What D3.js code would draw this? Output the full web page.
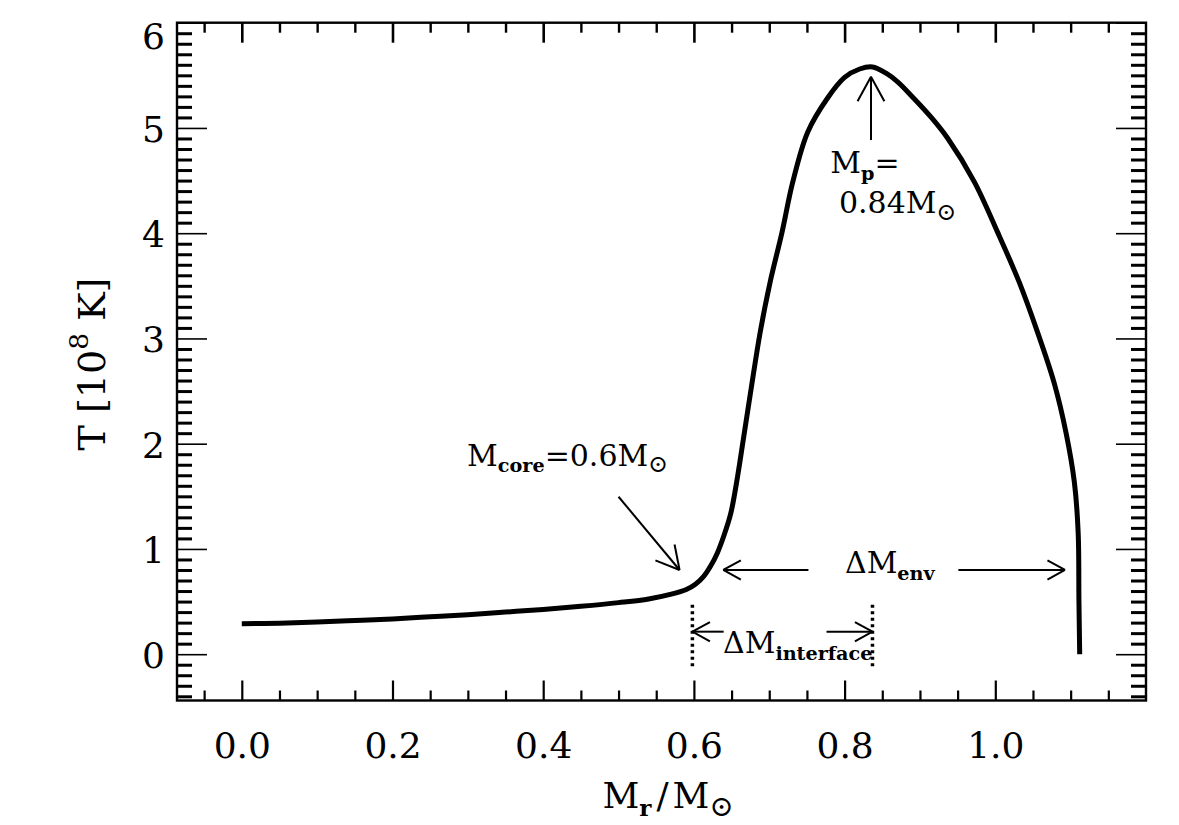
<!DOCTYPE html>
<html>
<head>
<meta charset="utf-8">
<script src="https://cdn.jsdelivr.net/npm/d3@7"></script>
<style>
  body { margin: 0; background: #fff; }
  text { font-family: "DejaVu Serif", serif; fill: #000; }
</style>
</head>
<body>
<div class="chart"></div>
<script>
// temperature profile T(M_r)
var massCoord = [0.000, 0.050, 0.100, 0.150, 0.200, 0.250, 0.300, 0.350, 0.400, 0.450,
                 0.500, 0.540, 0.570, 0.590, 0.602, 0.613, 0.622, 0.631, 0.640, 0.649,
                 0.658, 0.666, 0.677, 0.688, 0.701, 0.717, 0.731, 0.751, 0.777, 0.800,
                 0.820, 0.837, 0.855, 0.870, 0.892, 0.915, 0.937, 0.972, 1.003, 1.032,
                 1.056, 1.078, 1.094, 1.105, 1.110, 1.111, 1.112];
var tempVals  = [0.290, 0.295, 0.305, 0.320, 0.335, 0.355, 0.375, 0.400, 0.425, 0.455,
                 0.490, 0.525, 0.570, 0.615, 0.665, 0.740, 0.835, 0.960, 1.130, 1.340,
                 1.690, 2.060, 2.570, 3.060, 3.530, 4.010, 4.480, 4.960, 5.280, 5.480,
                 5.560, 5.580, 5.520, 5.440, 5.280, 5.100, 4.900, 4.490, 4.010, 3.530,
                 3.060, 2.580, 2.100, 1.630, 1.150, 0.510, 0.000];

var xMajorTicks = [0.0, 0.2, 0.4, 0.6, 0.8, 1.0];
var yMajorTicks = [0, 1, 2, 3, 4, 5, 6];

// annotation anchors, in data units
var coreMass = 0.6, peakMass = 0.837, envArrowT = 0.80, interfaceArrowT = 0.214;

var W = 1179, H = 825;
var pLeft = 177, pRight = 1146, pTop = 22.7, pBottom = 700.5;

var svg = d3.select('.chart').append('svg')
    .attr('width', W)
    .attr('height', H);

var x = d3.scaleLinear().domain([-0.086, 1.2]).range([pLeft, pRight]);
var y = d3.scaleLinear().domain([-0.44, 6.0]).range([pBottom, pTop]);

var xMinor = d3.range(-0.05, 1.19, 0.05).filter(function(v) { return Math.abs(v * 5 - Math.round(v * 5)) > 1e-6; });
var yMinor = d3.range(-0.4, 6.0, 0.1).filter(function(v) { return Math.abs(v - Math.round(v)) > 1e-6; });

function styleTicks(g, w) {
  g.select('.domain').remove();
  g.selectAll('.tick line').attr('stroke', '#000').attr('stroke-width', w);
}

// bottom
svg.append('g').attr('transform', 'translate(0,' + pBottom + ')')
  .call(d3.axisBottom(x).tickValues(xMinor).tickSize(-10).tickFormat(''))
  .call(styleTicks, 2.2);
var xa = svg.append('g').attr('transform', 'translate(0,' + pBottom + ')')
  .call(d3.axisBottom(x).tickValues(xMajorTicks).tickSize(-20).tickPadding(32).tickFormat(d3.format('.1f')))
  .call(styleTicks, 2.2);
xa.selectAll('text').attr('font-size', 36).attr('font-family', 'DejaVu Serif');
// top
svg.append('g').attr('transform', 'translate(0,' + pTop + ')')
  .call(d3.axisTop(x).tickValues(xMinor).tickSize(-10).tickFormat(''))
  .call(styleTicks, 2.4);
svg.append('g').attr('transform', 'translate(0,' + pTop + ')')
  .call(d3.axisTop(x).tickValues(xMajorTicks).tickSize(-20).tickFormat(''))
  .call(styleTicks, 2.6);
// left
svg.append('g').attr('transform', 'translate(' + pLeft + ',0)')
  .call(d3.axisLeft(y).tickValues(yMinor).tickSize(-15).tickFormat(''))
  .call(styleTicks, 3);
var ya = svg.append('g').attr('transform', 'translate(' + pLeft + ',0)')
  .call(d3.axisLeft(y).tickValues(yMajorTicks).tickSize(-30).tickPadding(12).tickFormat(d3.format('d')))
  .call(styleTicks, 1.6);
ya.selectAll('text').attr('font-size', 36).attr('font-family', 'DejaVu Serif')
  .attr('dy', null)
  .attr('y', function(d) { return Math.max(13.3, pTop + 26 - y(d)); });
// right
svg.append('g').attr('transform', 'translate(' + pRight + ',0)')
  .call(d3.axisRight(y).tickValues(yMinor).tickSize(-15).tickFormat(''))
  .call(styleTicks, 3);
svg.append('g').attr('transform', 'translate(' + pRight + ',0)')
  .call(d3.axisRight(y).tickValues(yMajorTicks).tickSize(-30).tickFormat(''))
  .call(styleTicks, 1.6);

svg.append('rect')
  .attr('x', pLeft).attr('y', pTop)
  .attr('width', pRight - pLeft).attr('height', pBottom - pTop)
  .attr('fill', 'none').attr('stroke', '#000').attr('stroke-width', 2.4);

// the profile
var pts = massCoord.map(function(m, i) { return [m, tempVals[i]]; });
var line = d3.line()
  .x(function(d) { return x(d[0]); })
  .y(function(d) { return y(d[1]); })
  .curve(d3.curveCatmullRom.alpha(0.5));
svg.append('path')
  .datum(pts)
  .attr('d', line)
  .attr('fill', 'none')
  .attr('stroke', '#000')
  .attr('stroke-width', 5)
  .attr('stroke-linejoin', 'round');

// arrows: open V head at (m2,t2)
function drawArrow(m1, t1, m2, t2, head) {
  var x1 = x(m1), y1 = y(t1), x2 = x(m2), y2 = y(t2);
  var a = Math.atan2(y1 - y2, x1 - x2), s = 0.5;
  svg.append('line').attr('x1', x1).attr('y1', y1).attr('x2', x2).attr('y2', y2)
    .attr('stroke', '#000').attr('stroke-width', 2);
  [-s, s].forEach(function(da) {
    svg.append('line').attr('x1', x2).attr('y1', y2)
      .attr('x2', x2 + head * Math.cos(a + da)).attr('y2', y2 + head * Math.sin(a + da))
      .attr('stroke', '#000').attr('stroke-width', 2);
  });
}

// label with sub/superscripts: parts = [[text, kind, dx]]
function drawLabel(px, py, parts, size, anchor, rotate) {
  var t = svg.append('text').attr('font-size', size).attr('text-anchor', anchor || 'start');
  if (rotate) t.attr('transform', 'translate(' + px + ',' + py + ') rotate(-90)');
  else t.attr('x', px).attr('y', py);
  var shift = 0;
  parts.forEach(function(p) {
    var kind = p[1] || 'n', want = 0, fs = size, fw = 'normal';
    if (kind === 'sub') { want = size * 0.22; fs = size * 0.64; fw = 'bold'; }
    if (kind === 'sun') { want = size * 0.22; fs = size * 0.8; }
    if (kind === 'sup') { want = -size * 0.45; fs = size * 0.7; }
    var ts = t.append('tspan').text(p[0]).attr('font-size', fs).attr('font-weight', fw)
      .attr('dy', want - shift);
    if (p[2]) ts.attr('dx', p[2]);
    shift = want;
  });
  return t;
}

// M_core arrow and label
drawArrow(0.500, 1.496, 0.581, 0.80, 26);
drawLabel(x(0.299), y(1.79), [['M'], ['core', 'sub'], ['=0.6M'], ['\u2299', 'sun']], 30);

// peak arrow and label
drawArrow(peakMass - 0.002, 4.885, peakMass - 0.002, 5.487, 28);
drawLabel(x(0.781), y(4.568), [['M'], ['p', 'sub'], ['=']], 30);
drawLabel(x(0.7925), y(4.19), [['0.84M'], ['\u2299', 'sun']], 30);

// Delta M_env
drawArrow(0.752, envArrowT, 0.639, envArrowT, 20);
drawArrow(0.951, envArrowT, 1.0925, envArrowT, 20);
drawLabel(x(0.8005), y(0.769), [['\u0394M'], ['env', 'sub']], 30);

// interface markers
[coreMass - 0.002, peakMass].forEach(function(m) {
  svg.append('line')
    .attr('x1', x(m)).attr('x2', x(m))
    .attr('y1', y(0.47)).attr('y2', y(-0.12))
    .attr('stroke', '#000').attr('stroke-width', 3.5)
    .attr('stroke-dasharray', '3,3.5');
});
drawArrow(0.6395, interfaceArrowT, coreMass - 0.002, interfaceArrowT, 20);
drawArrow(0.776, interfaceArrowT, peakMass, interfaceArrowT, 20);
drawLabel(x(0.6386), y(0.009), [['\u0394M'], ['interface', 'sub']], 30);

// axis titles
drawLabel(668, 808, [['M'], ['r', 'sub'], ['/', 'n', 5], ['M', 'n', 4], ['\u2299', 'sun']], 36, 'middle');
drawLabel(105, 364, [['T [10'], ['8', 'sup'], [' K]']], 38, 'middle', true);
</script>
</body>
</html>
